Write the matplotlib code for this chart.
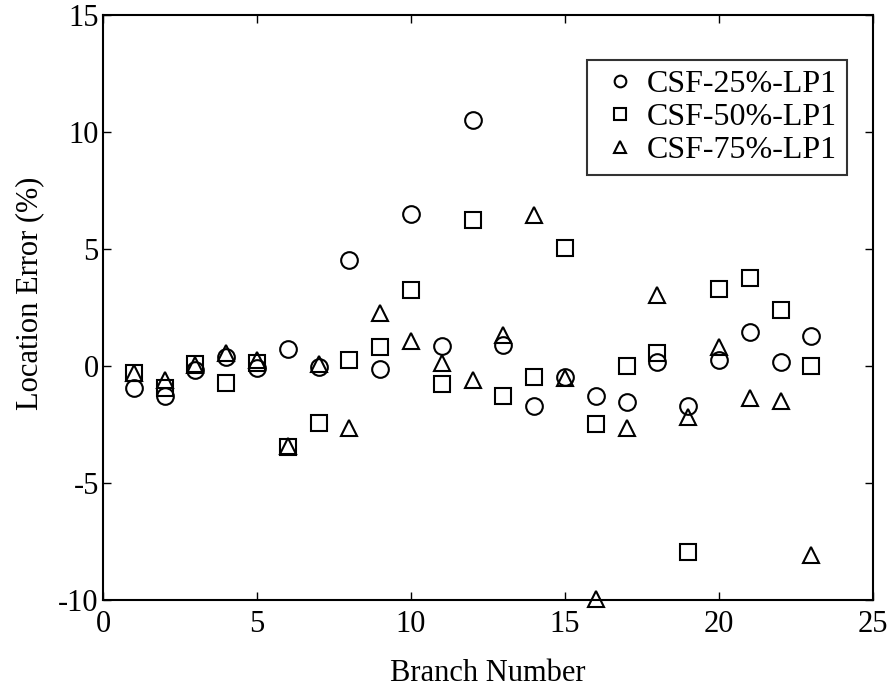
"""
Location error per branch for three CSF levels (LP1).
"""

import numpy as np
import matplotlib
matplotlib.use("Agg")
import matplotlib.pyplot as plt

plt.rcParams['font.family'] = ['Liberation Serif', 'DejaVu Serif']
plt.rcParams['axes.unicode_minus'] = False

# Data
branch = np.arange(1, 24)
csf25 = [-0.95, -1.3, -0.17, 0.4, -0.1, 0.72, -0.03, 4.55, -0.14, 6.5,
         0.85, 10.5, 0.9, -1.71, -0.47, -1.28, -1.52, 0.16, -1.71, 0.26,
         1.47, 0.19, 1.3]
csf50 = [-0.28, -0.95, 0.1, -0.74, 0.12, -3.46, -2.44, 0.26, 0.8, 3.25,
         -0.77, 6.24, -1.28, -0.47, 5.04, -2.48, 0.0, 0.55, -7.96, 3.28,
         3.77, 2.39, 0.0]
csf75 = [-0.3, -0.6, 0.04, 0.55, 0.26, -3.4, 0.1, -2.65, 2.27, 1.08,
         0.14, -0.6, 1.32, 6.45, -0.5, -9.95, -2.66, 3.03, -2.16, 0.83,
         -1.38, -1.48, -8.08]
labels = ['CSF-25%-LP1', 'CSF-50%-LP1', 'CSF-75%-LP1']

fig = plt.figure(figsize=(8.94, 6.90), dpi=100)
ax = fig.add_axes([0.1152, 0.1304, 0.8613, 0.8478])

style = dict(linestyle='none', markerfacecolor='none', markeredgecolor='black',
             markeredgewidth=1.5, clip_on=False)
ax.plot(branch, csf25, 'o', markersize=12, label=labels[0], **style)
ax.plot(branch, csf50, 's', markersize=11.5, label=labels[1], **style)
ax.plot(branch, csf75, '^', markersize=12, label=labels[2], **style)

ax.set_xlim(0, 25)
ax.set_ylim(-10, 15)
ax.set_xticks(np.arange(0, 26, 5))
ax.set_yticks(np.arange(-10, 16, 5))
ax.tick_params(direction='in', top=True, right=True, length=5.5, width=1,
               labelsize=22)
ax.tick_params(axis='x', pad=7.5)
ax.tick_params(axis='y', pad=3)
for s in ax.spines.values():
    s.set_linewidth(1.5)

ax.set_xlabel('Branch Number', fontsize=22, labelpad=14)
ax.set_ylabel('Location Error (%)', fontsize=22)
ax.yaxis.set_label_coords(-0.076, 0.525)

leg = ax.legend(loc='upper right', bbox_to_anchor=(0.966, 0.923), fontsize=23,
                frameon=True, fancybox=False, edgecolor='black',
                markerscale=0.7, handletextpad=0.1, borderpad=0.3,
                labelspacing=0.12, handlelength=1.5, borderaxespad=0)
leg.get_frame().set_linewidth(1.5)

fig.savefig('out.png', dpi=100)
